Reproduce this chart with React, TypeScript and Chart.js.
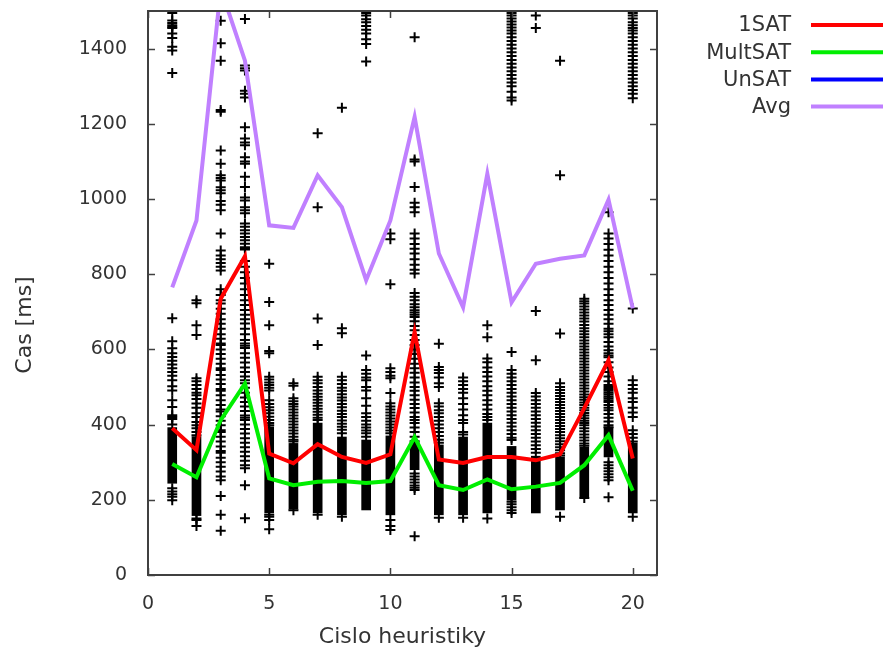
import React, { useEffect, useRef } from 'react';
import { Chart, registerables } from 'chart.js';

Chart.register(...registerables);

// Heuristic numbers (x axis)
const heuristics = [1, 2, 3, 4, 5, 6, 7, 8, 9, 10, 11, 12, 13, 14, 15, 16, 17, 18, 19, 20];

// Mean lines
const oneSat = [390, 332, 735, 848, 323, 297, 348, 314, 298, 321, 646, 307, 298, 314, 314, 305, 321, 444, 571, 310];
const multSat = [295, 260, 412, 509, 257, 239, 248, 250, 245, 250, 367, 239, 226, 254, 228, 235, 245, 292, 372, 224];
const unSat: number[] = [];
const avg = [765, 943, 1560, 1368, 930, 923, 1063, 978, 784, 943, 1218, 855, 712, 1067, 725, 828, 841, 850, 998, 709];

// Individual run times per heuristic (scatter "+" marks)
const runs: number[][] = [
  [1495, 1475, 1468, 1462, 1458, 1455, 1440, 1428, 1405, 1395, 1335, 683, 622, 603, 590, 580, 570, 560, 550, 540, 530, 518, 502, 491, 465, 447, 425, 420, 415, 400, 231, 222, 215, 208, 199],
  [731, 723, 664, 638, 523, 515, 505, 495, 485, 478, 468, 456, 445, 430, 420, 407, 398, 390, 380, 372, 150, 146, 130],
  [1474, 1414, 1368, 1237, 1232, 1129, 1094, 1063, 1056, 1049, 1031, 1023, 1015, 995, 985, 970, 908, 863, 850, 840, 830, 820, 810, 760, 745, 731, 722, 708, 695, 680, 668, 655, 640, 628, 616, 612, 600, 588, 575, 562, 550, 545, 532, 520, 508, 495, 490, 478, 465, 452, 440, 435, 422, 410, 398, 385, 380, 368, 355, 342, 330, 325, 312, 300, 288, 275, 262, 252, 210, 160, 118],
  [1479, 1355, 1348, 1342, 1288, 1280, 1270, 1191, 1161, 1150, 1143, 1111, 1100, 1094, 1059, 1032, 1004, 996, 978, 970, 962, 935, 926, 917, 908, 899, 890, 881, 872, 869, 866, 835, 820, 805, 790, 775, 760, 745, 731, 718, 705, 692, 680, 669, 655, 640, 625, 616, 610, 604, 590, 578, 565, 552, 540, 528, 518, 510, 498, 485, 472, 460, 448, 436, 424, 418, 412, 400, 388, 376, 364, 352, 340, 328, 316, 304, 292, 284, 239, 151],
  [828, 726, 664, 596, 590, 527, 520, 512, 505, 498, 491, 465, 455, 446, 438, 430, 421, 412, 404, 398, 160, 155, 146, 122],
  [510, 503, 470, 462, 455, 448, 440, 432, 424, 416, 408, 400, 392, 384, 376, 368, 360, 355, 172],
  [1175, 978, 682, 612, 527, 518, 510, 500, 491, 482, 474, 466, 458, 450, 442, 434, 426, 418, 412, 160],
  [1243, 656, 643, 527, 518, 508, 498, 490, 481, 472, 464, 455, 446, 437, 428, 420, 411, 402, 394, 386, 377, 155],
  [1495, 1488, 1478, 1470, 1460, 1450, 1440, 1425, 1412, 1366, 584, 545, 535, 525, 518, 500, 491, 470, 450, 430, 420, 410, 400, 392, 384, 377, 368],
  [908, 893, 773, 550, 540, 530, 523, 484, 457, 448, 440, 432, 424, 416, 408, 400, 392, 384, 377, 146, 130, 120],
  [1430, 1105, 1100, 1032, 990, 978, 965, 908, 895, 880, 868, 855, 840, 825, 812, 802, 750, 740, 731, 720, 712, 704, 698, 692, 686, 675, 662, 651, 638, 625, 612, 600, 588, 575, 562, 550, 538, 525, 512, 500, 490, 478, 466, 455, 444, 432, 420, 412, 404, 392, 380, 368, 356, 270, 262, 254, 246, 238, 232, 226, 103],
  [615, 553, 545, 537, 525, 510, 500, 457, 448, 438, 430, 420, 410, 400, 390, 380, 370, 360, 352, 152],
  [525, 515, 505, 495, 485, 470, 455, 440, 425, 412, 404, 380, 374, 152],
  [664, 632, 576, 566, 552, 540, 528, 515, 502, 490, 478, 465, 453, 440, 428, 420, 412, 150],
  [1495, 1488, 1480, 1472, 1464, 1456, 1448, 1440, 1430, 1420, 1410, 1400, 1390, 1380, 1370, 1360, 1350, 1340, 1330, 1320, 1310, 1300, 1285, 1270, 1262, 593, 545, 535, 525, 515, 505, 495, 485, 475, 465, 455, 445, 435, 425, 415, 405, 395, 385, 375, 365, 359, 195, 188, 180, 172, 165],
  [1488, 1455, 702, 571, 484, 475, 465, 455, 445, 435, 425, 415, 405, 395, 385, 375, 365, 355, 345, 335, 325],
  [1368, 1063, 642, 510, 500, 492, 484, 476, 468, 460, 452, 444, 436, 428, 420, 412, 404, 396, 388, 380, 372, 364, 356, 348, 340, 332, 324, 318, 155],
  [735, 728, 722, 714, 706, 698, 690, 682, 674, 665, 656, 648, 640, 632, 624, 616, 608, 600, 592, 584, 576, 568, 560, 552, 544, 536, 528, 520, 512, 504, 496, 488, 480, 473, 466, 459, 452, 445, 438, 431, 424, 417, 410, 404, 398, 390, 382, 374, 366, 358, 350, 344, 205],
  [965, 908, 895, 880, 865, 850, 835, 820, 805, 790, 775, 760, 745, 731, 718, 705, 692, 680, 668, 655, 648, 640, 632, 620, 608, 598, 590, 584, 579, 566, 552, 540, 528, 515, 505, 500, 495, 490, 485, 480, 475, 470, 465, 460, 452, 445, 438, 428, 418, 408, 398, 393, 300, 292, 284, 276, 268, 260, 252, 207],
  [1495, 1488, 1480, 1470, 1462, 1455, 1448, 1440, 1430, 1420, 1410, 1400, 1390, 1380, 1370, 1360, 1350, 1340, 1330, 1320, 1310, 1300, 1290, 1280, 1268, 709, 518, 505, 495, 485, 470, 460, 445, 432, 420, 385, 375, 365, 355, 155],
];

// Ranges where the "+" marks overlap into a solid column
const denseLow = [244, 158, null, null, 165, 175, 165, 160, 173, 160, 280, 160, 160, 165, 199, 165, 173, 207, 314, 165];
const denseHigh = [392, 368, null, null, 394, 350, 404, 367, 359, 370, 352, 346, 367, 404, 342, 316, 314, 340, 393, 351];

const xTickValues = [0, 5, 10, 15, 20];
const yTickValues = [0, 200, 400, 600, 800, 1000, 1200, 1400];

const xTitle = 'Cislo heuristiky';
const yTitle = 'Cas [ms]';

const FONT = 'DejaVu Sans';
const TEXT_COLOR = '#333333';

const framePlugin = {
  id: 'gnuFrame',
  afterDatasetsDraw(chart: any) {
    const { ctx, chartArea, scales } = chart;
    const { left, right, top, bottom } = chartArea;
    ctx.save();
    ctx.strokeStyle = '#404040';
    ctx.lineWidth = 2;
    ctx.strokeRect(left, top, right - left, bottom - top);
    ctx.lineWidth = 1.5;
    ctx.beginPath();
    for (const v of xTickValues) {
      const px = Math.round(scales.x.getPixelForValue(v)) + 0.5;
      ctx.moveTo(px, bottom); ctx.lineTo(px, bottom - 7);
      ctx.moveTo(px, top); ctx.lineTo(px, top + 7);
    }
    for (const v of yTickValues) {
      const py = Math.round(scales.y.getPixelForValue(v)) + 0.5;
      ctx.moveTo(left, py); ctx.lineTo(left + 7, py);
      ctx.moveTo(right, py); ctx.lineTo(right - 7, py);
    }
    ctx.stroke();
    ctx.restore();
  },
};

const legendPlugin = {
  id: 'gnuLegend',
  afterDraw(chart: any) {
    const { ctx } = chart;
    const items = chart.data.datasets.filter((d: any) => d.inLegend);
    ctx.save();
    ctx.font = `21px "${FONT}"`;
    ctx.textAlign = 'right';
    ctx.textBaseline = 'middle';
    items.forEach((d: any, i: number) => {
      const y = 25 + i * 27.2;
      ctx.fillStyle = TEXT_COLOR;
      ctx.fillText(d.label, 791, y + 1);
      ctx.strokeStyle = d.borderColor;
      ctx.lineWidth = 4;
      ctx.beginPath();
      ctx.moveTo(811, y);
      ctx.lineTo(883, y);
      ctx.stroke();
    });
    // y axis title (gnuplot places it slightly below the plot centre)
    ctx.font = `22px "${FONT}"`;
    ctx.textAlign = 'center';
    ctx.translate(25, 325);
    ctx.rotate(-Math.PI / 2);
    ctx.fillStyle = TEXT_COLOR;
    ctx.fillText(yTitle, 0, 0);
    ctx.restore();
  },
};

export default function App() {
  const ref = useRef<HTMLCanvasElement>(null);

  useEffect(() => {
    const points: { x: number; y: number }[] = [];
    runs.forEach((vals, i) => vals.forEach((v) => points.push({ x: heuristics[i], y: v })));
    const dense: any[] = [];
    heuristics.forEach((h, i) => {
      if (denseLow[i] != null && denseHigh[i] != null) dense.push({ x: h, y: [denseLow[i], denseHigh[i]] });
    });
    const line = (vals: number[]) => vals.map((v, i) => ({ x: heuristics[i], y: v }));
    const lineDs = (label: string, color: string, vals: number[]) => ({
      type: 'line',
      label,
      data: line(vals),
      borderColor: color,
      backgroundColor: color,
      borderWidth: 4,
      pointRadius: 0,
      tension: 0,
      fill: false,
      order: 0,
      inLegend: true,
    });

    const chart = new Chart(ref.current as HTMLCanvasElement, {
      type: 'scatter',
      data: {
        datasets: [
          lineDs('1SAT', '#ff0000', oneSat),
          lineDs('MultSAT', '#00ee00', multSat),
          lineDs('UnSAT', '#0000ff', unSat),
          lineDs('Avg', '#c080ff', avg),
          {
            type: 'scatter',
            label: 'runs',
            data: points,
            pointStyle: 'cross',
            pointRadius: 5,
            pointBorderColor: '#000000',
            pointBorderWidth: 2,
            pointBackgroundColor: '#000000',
            showLine: false,
            order: 1,
          },
          {
            type: 'bar',
            label: 'dense',
            data: dense,
            backgroundColor: '#000000',
            borderWidth: 0,
            barThickness: 9,
            grouped: false,
            order: 2,
          },
        ] as any,
      },
      options: {
        animation: false,
        responsive: false,
        events: [],
        layout: { padding: { left: 0, right: 230, top: 11, bottom: 0 } },
        plugins: { legend: { display: false }, tooltip: { enabled: false } },
        scales: {
          x: {
            type: 'linear',
            min: 0,
            max: 21,
            offset: false,
            afterBuildTicks: (s: any) => { s.ticks = xTickValues.map((v) => ({ value: v })); },
            afterFit: (s: any) => { s.height = 83; s.paddingLeft = 0; s.paddingRight = 0; },
            grid: { display: false, drawTicks: false },
            border: { display: false },
            ticks: { font: { family: FONT, size: 19 }, color: TEXT_COLOR, padding: 18, maxRotation: 0, autoSkip: false, callback: (v: any) => String(v) },
            title: { display: true, text: xTitle, font: { family: FONT, size: 22 }, color: TEXT_COLOR, padding: { top: 0, bottom: 8 } },
          },
          y: {
            type: 'linear',
            min: 0,
            max: 1500,
            afterBuildTicks: (s: any) => { s.ticks = yTickValues.map((v) => ({ value: v })); },
            afterFit: (s: any) => { s.width = 148; s.paddingTop = 0; s.paddingBottom = 0; },
            grid: { display: false, drawTicks: false },
            border: { display: false },
            ticks: { font: { family: FONT, size: 19 }, color: TEXT_COLOR, padding: 21, autoSkip: false, callback: (v: any) => String(v) },
            title: { display: false },
          },
        },
      } as any,
      plugins: [framePlugin, legendPlugin],
    });
    return () => chart.destroy();
  }, []);

  return (
    <div style={{ position: 'fixed', left: 0, top: 0, width: 887, height: 658, background: '#ffffff' }}>
      <canvas ref={ref} width={887} height={658} style={{ width: 887, height: 658, display: 'block' }} />
    </div>
  );
}
